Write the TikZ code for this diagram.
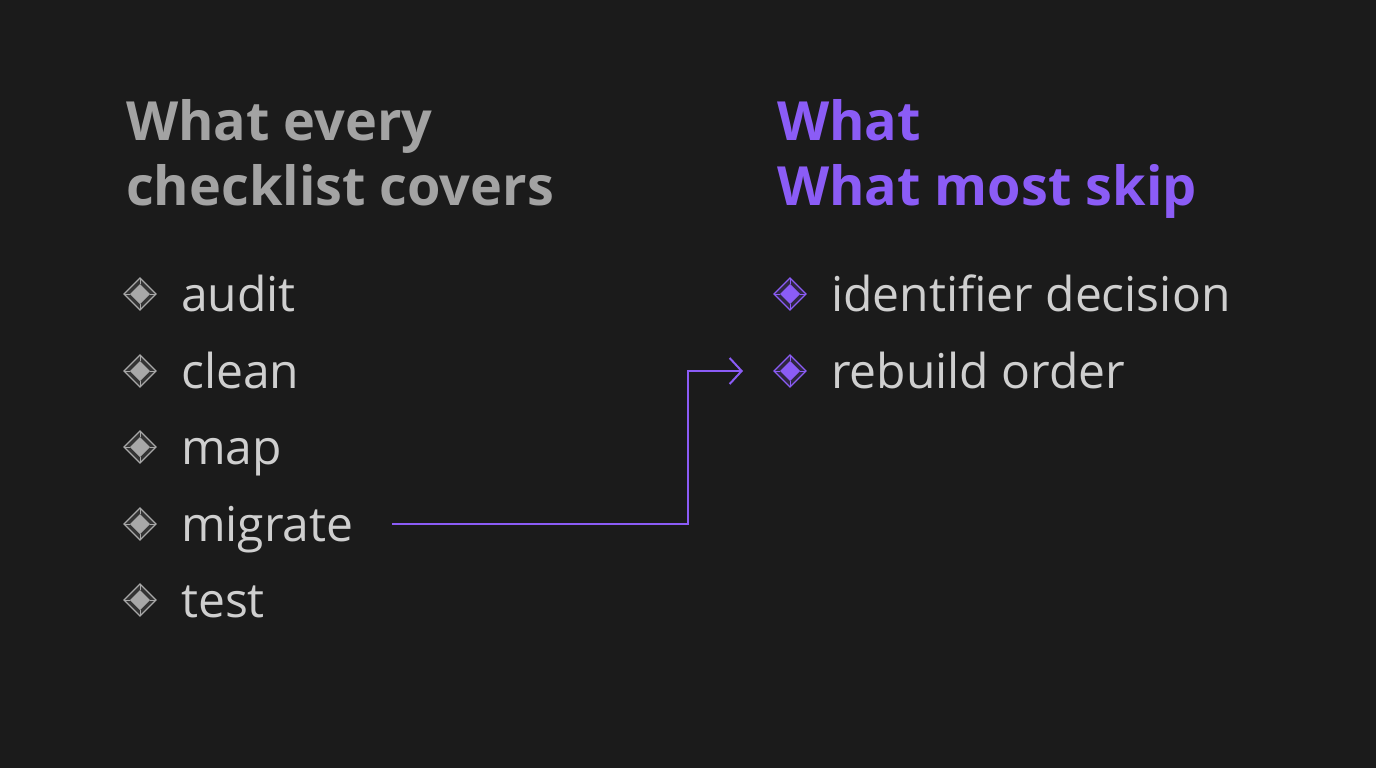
\documentclass[tikz,border=0pt]{standalone}
\usepackage{fontspec}
\setmainfont{Open Sans}
\usetikzlibrary{arrows.meta}
\definecolor{bg}{HTML}{1B1B1B}
\definecolor{headgray}{HTML}{A3A3A3}
\definecolor{itemgray}{HTML}{CFCFCF}
\definecolor{gemgray}{HTML}{A8A8A8}
\definecolor{violet}{HTML}{8B5CF6}
\tikzset{
  head/.style={anchor=base west, inner sep=0pt, font=\fontsize{54}{65}\selectfont\bfseries, align=left},
  item/.style={anchor=base west, inner sep=0pt, font=\fontsize{48}{56}\selectfont, text=itemgray},
  gem/.pic={
    \fill[#1!18!bg] (-16,0) -- (0,-16) -- (16,0) -- (0,16) -- cycle;
    \draw[line width=1.3pt, draw=#1] (-16,0) -- (0,-16) -- (16,0) -- (0,16) -- cycle;
    \fill[#1] (-10,0) -- (0,-10) -- (10,0) -- (0,10) -- cycle;
    \draw[line width=1pt, draw=#1] (-16,0) -- (-10,0) (16,0) -- (10,0) (0,16) -- (0,10) (0,-16) -- (0,-10);
  },
  link/.style={draw=violet, line width=2pt, -{Straight Barb[length=12pt, width=26pt, line width=2pt]}}
}
\begin{document}
\begin{tikzpicture}[x=1pt, y=-1pt]
\fill[bg] (0,0) rectangle (1376,768);
\useasboundingbox (0,0) rectangle (1376,768);

\node[head, text=headgray] (lhead) at (126,140) {What every};
\node[head, text=headgray] (lhead2) at (126,205) {checklist covers};
\node[head, text=violet] (rhead) at (777,140) {What};
\node[head, text=violet] (rhead2) at (777,205) {What most skip};

\foreach \y/\t/\n in {294/audit/a, 371/clean/c, 447/map/m, 524/migrate/g, 600/test/t}{
  \pic at (140,\y) {gem=gemgray};
  \node[item] (\n) at (181,\y+17) {\t};
}
\pic at (790,294) {gem=violet};
\node[item] (id) at (831,311) {identifier decision};
\pic at (790,371) {gem=violet};
\node[item] (rb) at (831,388) {rebuild order};

\coordinate (s) at (392,524);
\coordinate (e) at (743,371);
\draw[link] (s) -- (688,524) -- (688,371) -- (e);
\end{tikzpicture}
\end{document}
